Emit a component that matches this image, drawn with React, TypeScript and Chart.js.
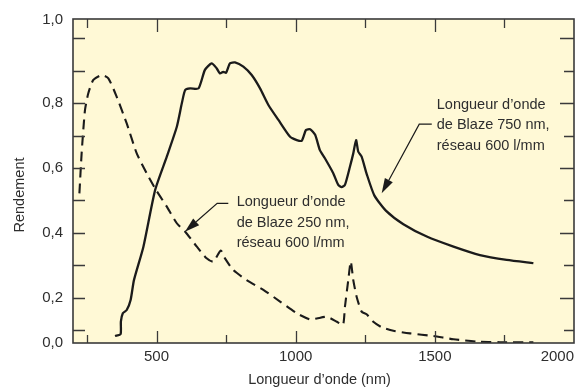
import React, { useEffect, useRef } from "react";
import { Chart, registerables } from "chart.js";

Chart.register(...registerables);

// Blaze 750 nm grating (solid)
const solidX = [351, 371, 372, 379, 393, 407, 419, 453, 495, 537, 573, 591, 603, 621, 651, 674, 698, 716, 728, 740, 750, 764, 782, 812, 842, 872, 902, 938, 980, 1004, 1022, 1037, 1052, 1070, 1087, 1105, 1135, 1153, 1165, 1177, 1195, 1207, 1217, 1225, 1237, 1255, 1283, 1325, 1387, 1471, 1567, 1662, 1758, 1854];
const solidY = [0.083, 0.089, 0.127, 0.153, 0.163, 0.194, 0.255, 0.358, 0.532, 0.635, 0.727, 0.799, 0.840, 0.845, 0.845, 0.902, 0.922, 0.907, 0.891, 0.896, 0.893, 0.922, 0.925, 0.912, 0.886, 0.845, 0.794, 0.748, 0.696, 0.686, 0.684, 0.717, 0.719, 0.702, 0.655, 0.630, 0.584, 0.548, 0.541, 0.548, 0.604, 0.645, 0.686, 0.650, 0.635, 0.582, 0.515, 0.468, 0.427, 0.389, 0.358, 0.332, 0.317, 0.307];

// Blaze 250 nm grating (dashed)
const dashX = [223, 231, 243, 255, 273, 303, 327, 357, 393, 429, 465, 495, 537, 573, 603, 645, 680, 704, 731, 746, 776, 824, 884, 944, 1004, 1052, 1076, 1112, 1148, 1170, 1177, 1189, 1198, 1207, 1219, 1237, 1255, 1279, 1309, 1351, 1411, 1495, 1567, 1651, 1734, 1854];
const dashY = [0.522, 0.645, 0.778, 0.830, 0.871, 0.886, 0.876, 0.819, 0.737, 0.645, 0.583, 0.537, 0.481, 0.430, 0.404, 0.358, 0.322, 0.312, 0.346, 0.322, 0.286, 0.255, 0.225, 0.189, 0.153, 0.134, 0.137, 0.142, 0.127, 0.117, 0.173, 0.255, 0.312, 0.255, 0.204, 0.158, 0.150, 0.127, 0.110, 0.099, 0.091, 0.083, 0.073, 0.066, 0.064, 0.064];

// Axes
const xMin = 200;
const xMax = 2000;
const yMin = 0.0615;
const yMax = 1.0585;
const xTickValues = [250, 500, 750, 1000, 1250, 1500, 1750];
const xLabelValues = [500, 1000, 1500, 2000];
const yTickValues = [0.1, 0.2, 0.3, 0.4, 0.5, 0.6, 0.7, 0.8, 0.9, 1.0];
const yLabelValues = [0.2, 0.4, 0.6, 0.8];
const yEdgeLabels = ["0,0", "1,0"];
const xTitle = "Longueur d\u2019onde (nm)";
const yTitle = "Rendement";

// Annotations (data coordinates)
const note750 = ["Longueur d\u2019onde", "de Blaze 750 nm,", "réseau 600 l/mm"];
const note750Pos = { x: 1507, y: 0.794 };
const arrow750 = [{ x: 1489, y: 0.735 }, { x: 1444, y: 0.735 }, { x: 1309, y: 0.522 }];
const note250 = ["Longueur d\u2019onde", "de Blaze 250 nm,", "réseau 600 l/mm"];
const note250Pos = { x: 788, y: 0.494 };
const arrow250 = [{ x: 758, y: 0.491 }, { x: 718, y: 0.491 }, { x: 602, y: 0.404 }];

const FONT = "'Liberation Sans', Arial, sans-serif";
const NARROW = "'Liberation Sans Narrow', 'Liberation Sans', Arial, sans-serif";
const TEXT = "#2e2e2e";
const LINE = "#1b1b1b";

const decorPlugin = {
  id: "decor",
  beforeDraw(chart: any) {
    const { ctx, chartArea: a } = chart;
    ctx.save();
    ctx.fillStyle = "#ffffff";
    ctx.fillRect(0, 0, chart.width, chart.height);
    ctx.fillStyle = "#FFF9D6";
    ctx.fillRect(a.left, a.top, a.right - a.left, a.bottom - a.top);
    ctx.restore();
  },
  afterDatasetsDraw(chart: any) {
    const { ctx, chartArea: a } = chart;
    const xs = chart.scales.x;
    const ys = chart.scales.y;
    ctx.save();
    // ticks
    ctx.strokeStyle = "#3a3a3a";
    ctx.lineWidth = 1.3;
    ctx.beginPath();
    for (const v of xTickValues) {
      const px = Math.round(xs.getPixelForValue(v)) + 0.5;
      const len = v % 500 === 0 ? 12 : 8;
      ctx.moveTo(px, a.bottom);
      ctx.lineTo(px, a.bottom - len);
      ctx.moveTo(px, a.top);
      ctx.lineTo(px, a.top + (v % 500 === 0 ? 13 : 9));
    }
    for (const v of yTickValues) {
      const py = Math.round(ys.getPixelForValue(v)) + 0.5;
      const even = Math.round(v * 10) % 2 === 0;
      ctx.moveTo(a.left, py);
      ctx.lineTo(a.left + 12, py);
      ctx.moveTo(a.right, py);
      ctx.lineTo(a.right - (even ? 14 : 10), py);
    }
    ctx.stroke();
    // frame
    ctx.lineWidth = 1.6;
    ctx.strokeRect(a.left, a.top, a.right - a.left, a.bottom - a.top);

    // tick labels
    ctx.fillStyle = TEXT;
    ctx.font = `15px ${NARROW}`;
    ctx.textBaseline = "middle";
    for (const v of xLabelValues) {
      const px = xs.getPixelForValue(v);
      const label = String(v);
      const w = ctx.measureText(label).width;
      let cx = px;
      if (cx + w / 2 > chart.width - 1) cx = chart.width - 1 - w / 2;
      ctx.textAlign = "center";
      ctx.fillText(label, cx, a.bottom + 14);
    }
    ctx.textAlign = "right";
    for (const v of yLabelValues) {
      ctx.fillText(v.toFixed(1).replace(".", ","), a.left - 10, ys.getPixelForValue(v));
    }
    ctx.fillText(yEdgeLabels[0], a.left - 10, ys.getPixelForValue(yMin));
    ctx.fillText(yEdgeLabels[1], a.left - 10, ys.getPixelForValue(yMax) + 1);

    // titles
    ctx.font = `14.5px ${FONT}`;
    ctx.textAlign = "center";
    ctx.fillText(xTitle, (a.left + a.right) / 2 - 4, a.bottom + 37);
    ctx.save();
    ctx.translate(20, (a.top + a.bottom) / 2 + 14);
    ctx.rotate(-Math.PI / 2);
    ctx.fillText(yTitle, 0, 0);
    ctx.restore();

    // annotations
    const drawNote = (lines: string[], pos: any, arrow: any[]) => {
      ctx.font = `14.5px ${FONT}`;
      ctx.textAlign = "left";
      ctx.fillStyle = TEXT;
      const tx = xs.getPixelForValue(pos.x);
      const ty = ys.getPixelForValue(pos.y);
      lines.forEach((l, i) => ctx.fillText(l, tx, ty + i * 20.5));
      const pts = arrow.map((p) => ({ x: xs.getPixelForValue(p.x), y: ys.getPixelForValue(p.y) }));
      ctx.strokeStyle = LINE;
      ctx.lineWidth = 1.2;
      const tip = pts[pts.length - 1];
      const prev = pts[pts.length - 2];
      const ang = Math.atan2(tip.y - prev.y, tip.x - prev.x);
      const hl = 15;
      const hw = 4.5;
      const bx = tip.x - hl * Math.cos(ang);
      const by = tip.y - hl * Math.sin(ang);
      ctx.beginPath();
      ctx.moveTo(pts[0].x, pts[0].y);
      for (let i = 1; i < pts.length - 1; i++) ctx.lineTo(pts[i].x, pts[i].y);
      ctx.lineTo(bx, by);
      ctx.stroke();
      ctx.fillStyle = LINE;
      ctx.beginPath();
      ctx.moveTo(tip.x, tip.y);
      ctx.lineTo(bx + hw * Math.sin(ang), by - hw * Math.cos(ang));
      ctx.lineTo(bx - hw * Math.sin(ang), by + hw * Math.cos(ang));
      ctx.closePath();
      ctx.fill();
    };
    drawNote(note750, note750Pos, arrow750);
    drawNote(note250, note250Pos, arrow250);
    ctx.restore();
  },
};

export default function App() {
  const ref = useRef<HTMLCanvasElement | null>(null);
  useEffect(() => {
    if (!ref.current) return;
    const chart = new Chart(ref.current, {
      type: "line",
      data: {
        datasets: [
          {
            label: "Blaze 750 nm",
            data: solidX.map((x, i) => ({ x, y: solidY[i] })),
            borderColor: LINE,
            borderWidth: 2.3,
            pointRadius: 0,
            tension: 0.2,
            fill: false,
          },
          {
            label: "Blaze 250 nm",
            data: dashX.map((x, i) => ({ x, y: dashY[i] })),
            borderColor: LINE,
            borderWidth: 2.1,
            borderDash: [10, 6],
            pointRadius: 0,
            tension: 0.2,
            fill: false,
          },
        ],
      },
      options: {
        animation: false,
        responsive: false,
        maintainAspectRatio: false,
        layout: { padding: { left: 73, right: 1, top: 19, bottom: 45 } },
        plugins: { legend: { display: false }, tooltip: { enabled: false } },
        scales: {
          x: { type: "linear", min: xMin, max: xMax, display: false },
          y: { type: "linear", min: yMin, max: yMax, display: false },
        },
      },
      plugins: [decorPlugin],
    });
    return () => chart.destroy();
  }, []);
  return (
    <div style={{ position: "fixed", left: 0, top: 0, width: 575, height: 388, background: "#fff" }}>
      <canvas ref={ref} width={575} height={388} style={{ width: 575, height: 388, display: "block" }} />
    </div>
  );
}
